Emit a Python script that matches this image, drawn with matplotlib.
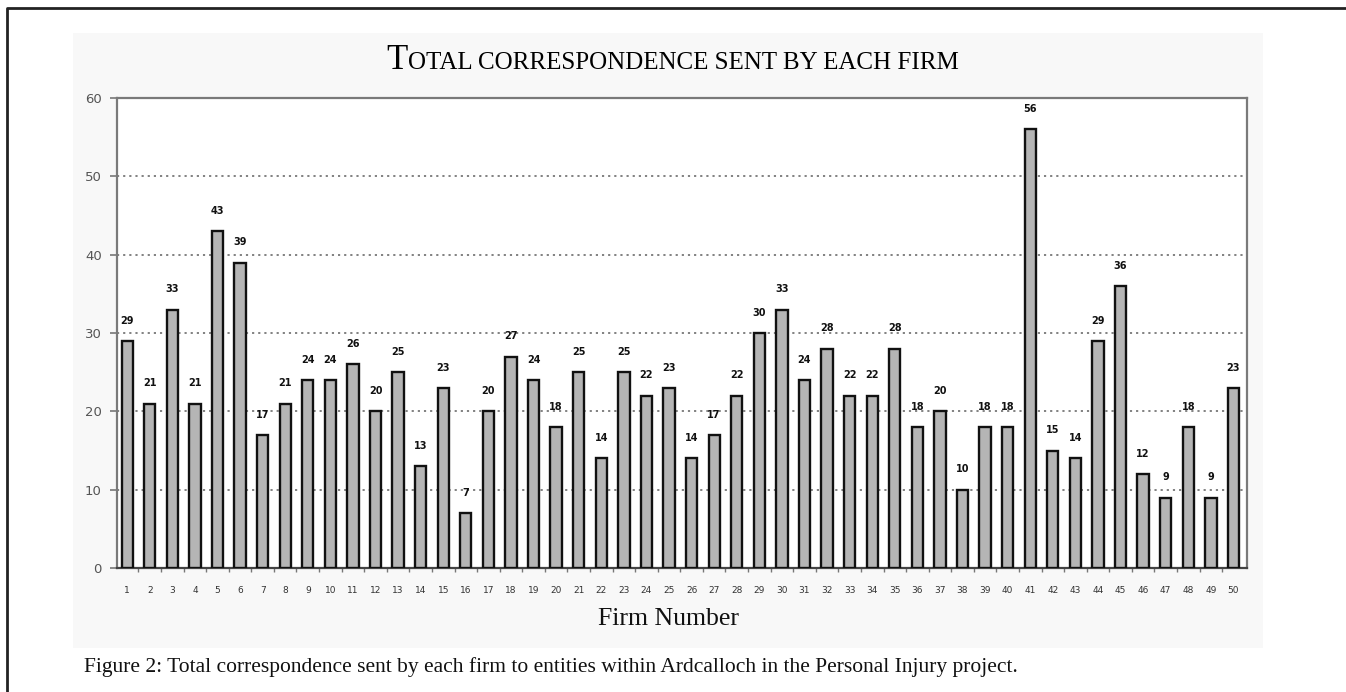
import matplotlib
matplotlib.use("Agg")
import matplotlib.pyplot as plt
from matplotlib.patches import Rectangle
from matplotlib.lines import Line2D
import numpy as np

firms = list(range(1, 51))
letters = [29, 21, 33, 21, 43, 39, 17, 21, 24, 24,
           26, 20, 25, 13, 23, 7, 20, 27, 24, 18,
           25, 14, 25, 22, 23, 14, 17, 22, 30, 33,
           24, 28, 22, 22, 28, 18, 20, 10, 18, 18,
           56, 15, 14, 29, 36, 12, 9, 18, 9, 23]
yticks = [0, 10, 20, 30, 40, 50, 60]

title_first = "T"
title_rest = "OTAL CORRESPONDENCE SENT BY EACH FIRM"
xlabel = "Firm Number"
caption = ("Figure 2: Total correspondence sent by each firm to entities "
           "within Ardcalloch in the Personal Injury project.")

W, H = 1346, 692
fig = plt.figure(figsize=(W / 100, H / 100), dpi=100)
fig.patch.set_facecolor("white")

# light scanned panel behind the chart
fig.patches.append(Rectangle((73 / W, 1 - 648 / H), (1263 - 73) / W, (648 - 33) / H,
                             transform=fig.transFigure, facecolor="#f8f8f8",
                             edgecolor="none", zorder=-5))
# page frame (left + top)
fig.lines.append(Line2D([7 / W, 7 / W, 1.0], [0.0, 1 - 8 / H, 1 - 8 / H],
                        transform=fig.transFigure, color="#222222", lw=2))

ax = fig.add_axes([117 / W, 1 - 568 / H, (1247 - 117) / W, (568 - 98) / H])
ax.set_zorder(2)
ax.set_facecolor("white")

ax.bar(firms, letters, width=0.5, color="#b5b5b5", edgecolor="#111111",
       linewidth=1.7, zorder=3)

for f, v in zip(firms, letters):
    ax.annotate(str(v), (f, v), xytext=(0, 11), textcoords="offset points",
                ha="center", va="bottom", fontsize=7, fontweight="bold",
                family="DejaVu Sans", color="#111111", zorder=4)

ax.set_xlim(0.55, 50.6)
ax.set_ylim(0, 60)
ax.set_yticks(yticks)
ax.set_yticklabels([str(t) for t in yticks])
ax.set_xticks(firms)
ax.set_xticklabels([str(f) for f in firms])
ax.set_xticks(np.arange(1.5, 50, 1), minor=True)

ax.tick_params(axis="x", which="major", length=0, pad=13, labelsize=6.5,
               labelcolor="#333333")
ax.tick_params(axis="x", which="minor", length=3, width=1, color="#777777",
               direction="out")
ax.tick_params(axis="y", length=5, width=1.2, color="#777777", pad=6,
               labelsize=9.5, labelcolor="#555555")

for y in yticks[1:-1]:
    ax.axhline(y, color="#777777", lw=1.3, ls=(0, (1.2, 2.2)), zorder=1)

for side in ["left", "top", "right"]:
    ax.spines[side].set_color("#7a7a7a")
    ax.spines[side].set_linewidth(1.6)
ax.spines["bottom"].set_color("#444444")
ax.spines["bottom"].set_linewidth(1.6)

# small caps title
serif = "Liberation Serif"
fig.canvas.draw()
r = fig.canvas.get_renderer()
t1 = fig.text(0, 0, title_first, fontsize=25, family=serif, va="baseline")
t2 = fig.text(0, 0, title_rest, fontsize=18, family=serif, va="baseline")
w1 = t1.get_window_extent(r).width
w2 = t2.get_window_extent(r).width
x0 = 672 - (w1 + w2) / 2
yb = 1 - 69 / H
t1.set_position((x0 / W, yb))
t2.set_position(((x0 + w1 + 1) / W, yb))

fig.text(669 / W, 1 - 619 / H, xlabel, fontsize=18.5, family=serif,
         ha="center", va="center", color="#111111")
fig.text(84 / W, 1 - 667 / H, caption, fontsize=15.5, family=serif,
         ha="left", va="center", color="#111111")

fig.savefig("out.png", dpi=100)
